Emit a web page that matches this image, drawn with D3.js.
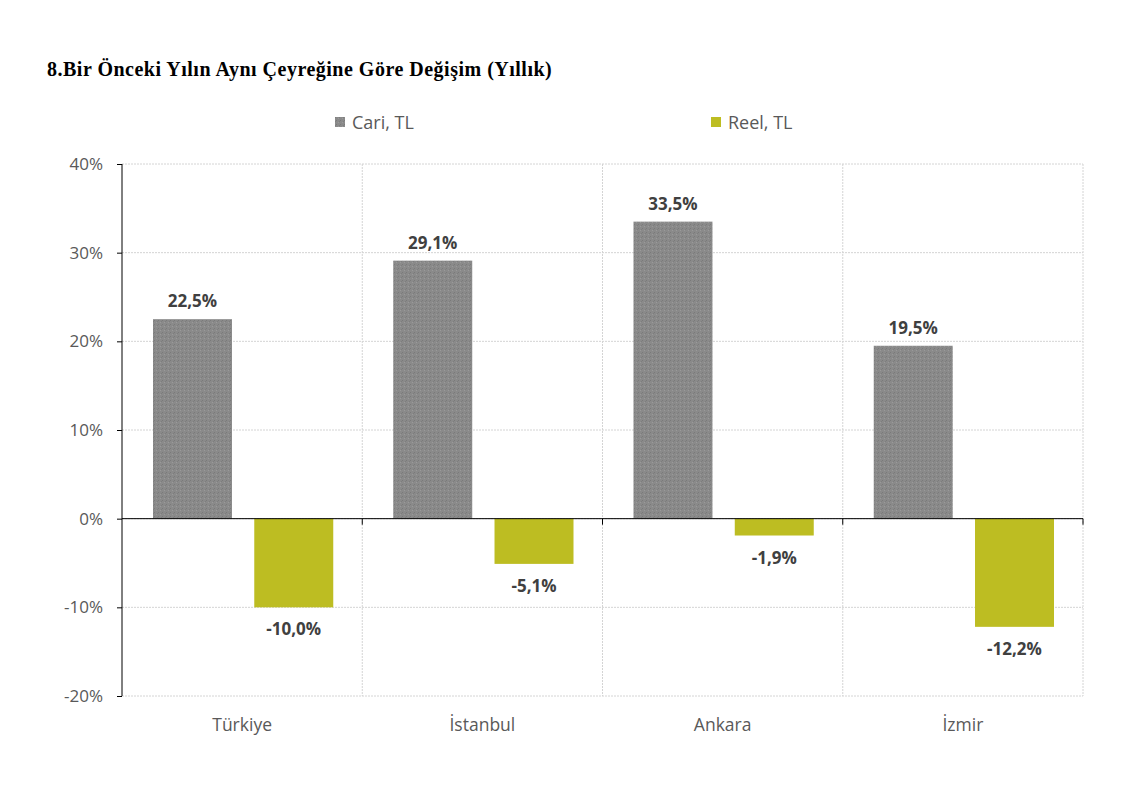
<!DOCTYPE html>
<html lang="tr">
<head>
<meta charset="UTF-8">
<title>Bir Önceki Yılın Aynı Çeyreğine Göre Değişim</title>
<script src="https://d3js.org/d3.v7.min.js"></script>
<style>
  body { margin: 0; background: #fff; }
  svg text { font-family: "Open Sans", "Noto Sans", sans-serif; }
</style>
</head>
<body>
<div id="chart"></div>
<script>
// chart data
var categories = ["Türkiye", "İstanbul", "Ankara", "İzmir"];
var seriesNames = ["Cari, TL", "Reel, TL"];
var cari = [22.5, 29.1, 33.5, 19.5];
var reel = [-10.0, -5.1, -1.9, -12.2];
var yTicks = [-20, -10, 0, 10, 20, 30, 40];
var colors = ["url(#dots)", "#bdbd22"];

var W = 1123, H = 794;
var margin = { top: 164, right: 40, bottom: 98, left: 122 };
var width = W - margin.left - margin.right,
    height = H - margin.top - margin.bottom;

var svg = d3.select("#chart").append("svg")
    .attr("width", W)
    .attr("height", H);

// speckled grey fill like the original
var defs = svg.append("defs");
var pat = defs.append("pattern")
    .attr("id", "dots")
    .attr("patternUnits", "userSpaceOnUse")
    .attr("width", 4).attr("height", 4);
pat.append("rect").attr("width", 4).attr("height", 4).attr("fill", "#8a8a8a");
pat.append("rect").attr("x", 0).attr("y", 0).attr("width", 1).attr("height", 1).attr("fill", "#7a7a7a");
pat.append("rect").attr("x", 2).attr("y", 2).attr("width", 1).attr("height", 1).attr("fill", "#9a9a9a");
pat.append("rect").attr("x", 3).attr("y", 1).attr("width", 1).attr("height", 1).attr("fill", "#7e7e7e");

// title
svg.append("text")
    .attr("x", 47).attr("y", 76)
    .style("font-family", "'Liberation Serif', 'DejaVu Serif', serif")
    .style("font-weight", "bold")
    .style("font-size", "20px")
    .style("letter-spacing", "0.5px")
    .attr("fill", "#000")
    .text("8.Bir Önceki Yılın Aynı Çeyreğine Göre Değişim (Yıllık)");

// legend
var legendX = [335, 711];
seriesNames.forEach(function (name, i) {
    svg.append("rect")
        .attr("x", legendX[i]).attr("y", 117)
        .attr("width", 10).attr("height", 10)
        .attr("fill", colors[i]);
    svg.append("text")
        .attr("x", legendX[i] + 17).attr("y", 129)
        .style("font-size", "18px")
        .attr("fill", "#595959")
        .text(name);
});

var g = svg.append("g")
    .attr("transform", "translate(" + margin.left + "," + margin.top + ")");

var x0 = d3.scaleBand().domain(categories).range([0, width]);
var x1 = d3.scaleBand().domain(seriesNames)
    .range([31, x0.bandwidth() - 29])
    .paddingInner(0.22);
var y = d3.scaleLinear().domain([-20, 40]).range([height, 0]);

// horizontal grid
g.selectAll(".hgrid").data(yTicks).enter().append("line")
    .attr("x1", 0).attr("x2", width)
    .attr("y1", function (d) { return y(d); })
    .attr("y2", function (d) { return y(d); })
    .attr("stroke", "#d4d4d4")
    .attr("stroke-dasharray", "2,1");

// vertical grid at category boundaries
var bounds = categories.map(function (c) { return x0(c) + x0.bandwidth(); });
g.selectAll(".vgrid").data(bounds).enter().append("line")
    .attr("x1", function (d) { return d; }).attr("x2", function (d) { return d; })
    .attr("y1", 0).attr("y2", height)
    .attr("stroke", "#d4d4d4")
    .attr("stroke-dasharray", "2,1");

var rows = [];
categories.forEach(function (c, i) {
    rows.push({ cat: c, s: 0, v: cari[i] });
    rows.push({ cat: c, s: 1, v: reel[i] });
});

// bars
g.selectAll(".bar").data(rows).enter().append("rect")
    .attr("x", function (d) { return x0(d.cat) + x1(seriesNames[d.s]); })
    .attr("width", x1.bandwidth())
    .attr("y", function (d) { return y(Math.max(0, d.v)); })
    .attr("height", function (d) { return Math.abs(y(d.v) - y(0)); })
    .attr("fill", function (d) { return colors[d.s]; });

// value labels
var fmt = function (v) { return v.toFixed(1).replace(".", ",") + "%"; };
g.selectAll(".lbl").data(rows).enter().append("text")
    .attr("x", function (d) { return x0(d.cat) + x1(seriesNames[d.s]) + x1.bandwidth() / 2; })
    .attr("y", function (d) { return d.v >= 0 ? y(d.v) - 12 : y(d.v) + 28; })
    .attr("text-anchor", "middle")
    .style("font-size", "17px")
    .style("font-weight", "bold")
    .attr("fill", "#404040")
    .text(function (d) { return fmt(d.v); });

// y axis
var yAxis = g.append("g")
    .call(d3.axisLeft(y).tickValues(yTicks).tickSize(5).tickPadding(14)
        .tickFormat(function (d) { return d + "%"; }));
yAxis.select(".domain").attr("stroke", "#000").attr("d", "M0," + y(40) + "V" + y(-20));
yAxis.selectAll(".tick line").attr("stroke", "#000");
yAxis.selectAll(".tick text")
    .style("font-size", "17px")
    .attr("fill", "#595959");

// zero line with category ticks
var xAxis = g.append("g")
    .attr("transform", "translate(0," + y(0) + ")");
xAxis.append("line")
    .attr("x1", 0).attr("x2", width)
    .attr("stroke", "#000");
xAxis.selectAll(".ct").data(bounds).enter().append("line")
    .attr("x1", function (d) { return d; }).attr("x2", function (d) { return d; })
    .attr("y1", 0).attr("y2", 6)
    .attr("stroke", "#000");

// category labels
g.selectAll(".cat").data(categories).enter().append("text")
    .attr("x", function (d) { return x0(d) + x0.bandwidth() / 2; })
    .attr("y", height + 35)
    .attr("text-anchor", "middle")
    .style("font-size", "17.5px")
    .attr("fill", "#595959")
    .text(function (d) { return d; });
</script>
</body>
</html>
